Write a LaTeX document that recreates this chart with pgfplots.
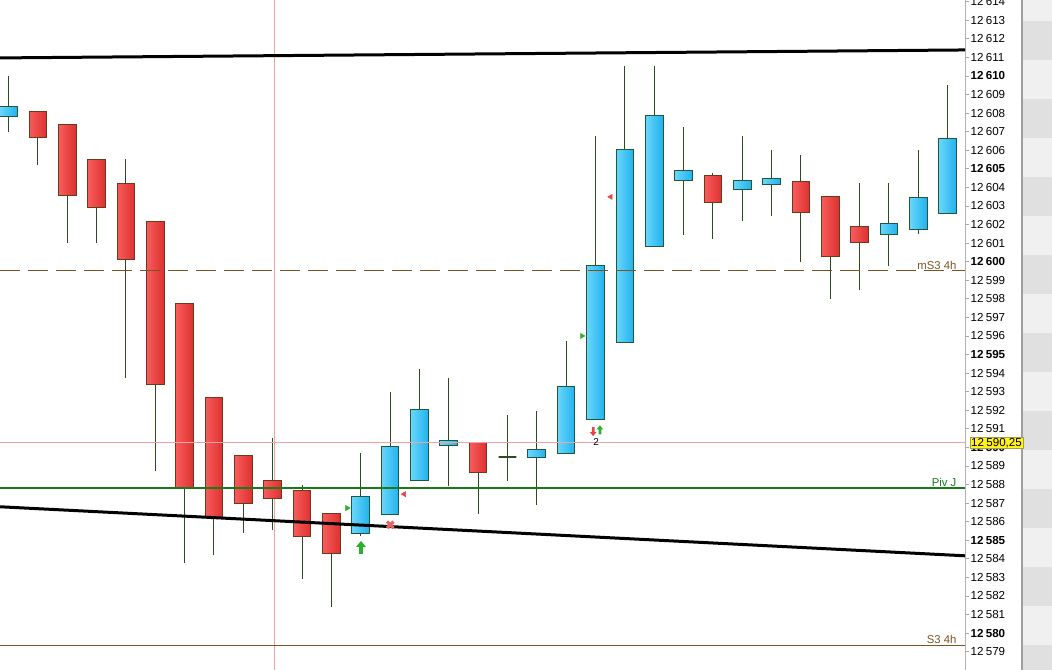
\documentclass[border=0pt]{standalone}
\usepackage{pgfplots}
\pgfplotsset{compat=1.18}
\usepackage{pgfplotstable}
\usepackage{fontspec}
\setmainfont{Liberation Sans}

\definecolor{blueL}{HTML}{6AD6FB}
\definecolor{blueR}{HTML}{20B2EE}
\definecolor{blueB}{HTML}{1D5A3C}
\definecolor{redL}{HTML}{F85C5C}
\definecolor{redR}{HTML}{DE3030}
\definecolor{redB}{HTML}{6B3A1C}
\definecolor{wick}{HTML}{2D4A20}
\definecolor{pivgreen}{HTML}{1A7A1A}
\definecolor{s3brown}{HTML}{7A5424}
\definecolor{pinkline}{HTML}{F0A4A4}
\definecolor{mkgreen}{HTML}{2DB02D}
\definecolor{mkred}{HTML}{E04848}
\definecolor{stripL}{HTML}{F0F0F0}
\definecolor{stripD}{HTML}{E0E0E0}

\newcommand\tl[1]{12\kern0.2em#1}
\newcommand\tb[1]{\textbf{12\kern0.2em#1}}

% block arrow mark, tip up
\pgfdeclareplotmark{barrow}{%
  \pgfpathmoveto{\pgfqpoint{0pt}{\pgfplotmarksize}}%
  \pgfpathlineto{\pgfqpoint{0.75\pgfplotmarksize}{0.1\pgfplotmarksize}}%
  \pgfpathlineto{\pgfqpoint{0.3\pgfplotmarksize}{0.1\pgfplotmarksize}}%
  \pgfpathlineto{\pgfqpoint{0.3\pgfplotmarksize}{-\pgfplotmarksize}}%
  \pgfpathlineto{\pgfqpoint{-0.3\pgfplotmarksize}{-\pgfplotmarksize}}%
  \pgfpathlineto{\pgfqpoint{-0.3\pgfplotmarksize}{0.1\pgfplotmarksize}}%
  \pgfpathlineto{\pgfqpoint{-0.75\pgfplotmarksize}{0.1\pgfplotmarksize}}%
  \pgfpathclose
  \pgfusepathqfill}

% candles: index, open, high, low, close
\pgfplotstableread{
i o h l c
0 12607.80 12610.00 12607.00 12608.35
1 12608.10 12608.10 12605.22 12606.70
2 12607.40 12607.40 12601.00 12603.58
3 12605.48 12605.48 12601.00 12602.93
4 12604.22 12605.53 12593.74 12600.13
5 12602.18 12602.18 12588.73 12593.36
6 12597.76 12597.76 12583.77 12587.81
7 12592.71 12592.71 12584.20 12586.20
8 12589.54 12589.54 12585.39 12586.95
9 12588.24 12590.50 12585.55 12587.22
10 12587.69 12587.97 12582.93 12585.21
11 12586.45 12586.45 12581.42 12584.30
12 12585.38 12589.70 12585.20 12587.37
13 12586.40 12592.98 12586.40 12590.06
14 12588.23 12594.22 12588.23 12592.05
15 12590.11 12593.74 12587.94 12590.38
16 12590.28 12590.28 12586.43 12588.64
17 12589.48 12591.74 12588.21 12589.48
18 12589.47 12591.96 12586.90 12589.90
19 12589.68 12595.73 12589.68 12593.28
20 12591.48 12606.77 12591.48 12599.81
21 12595.66 12610.55 12595.66 12606.05
22 12600.83 12610.55 12600.83 12607.88
23 12604.38 12607.25 12601.45 12604.92
24 12604.65 12604.76 12601.24 12603.20
25 12603.90 12606.77 12602.21 12604.38
26 12604.17 12606.02 12602.48 12604.49
27 12604.33 12605.73 12599.97 12602.64
28 12603.52 12603.52 12597.98 12600.29
29 12601.91 12604.22 12598.46 12601.04
30 12601.48 12604.22 12599.75 12602.07
31 12601.74 12606.02 12601.48 12603.47
32 12602.61 12609.52 12602.61 12606.65
}\candles

\pgfplotsset{
  redbody/.style={draw=redB, line width=0.75pt, left color=redL, right color=redR},
  bluebody/.style={draw=blueB, line width=0.75pt, left color=blueL, right color=blueR},
  dojibody/.style={draw=wick, line width=1.6pt},
}

\begin{document}
\begin{tikzpicture}
\useasboundingbox (0,0) rectangle (789pt,502.5pt);
% price strip at far right
\fill[stripL] (765.75pt,0) rectangle (789pt,502.5pt);
\foreach \k in {0,...,8}{
  \fill[stripD] (765.75pt,{502.5pt-(20.7+78.08*\k)*0.75pt}) rectangle (789pt,{502.5pt-(59.74+78.08*\k)*0.75pt});
}
\draw[gray!75, line width=1.8pt] (766.6pt,0) -- (766.6pt,502.5pt);

\begin{axis}[
  at={(0,0)}, anchor=south west,
  width=723.75pt, height=502.5pt, scale only axis,
  xmin=-0.29, xmax=32.59,
  ymin=12578.01, ymax=12614.09,
  clip=false,
  axis x line=none,
  axis y line*=right,
  axis line style={-, draw=gray!60, line width=0.75pt},
  tick align=outside,
  major tick length=3pt,
  ytick style={draw=gray!70, line width=0.6pt},
  ytick={12578,...,12614},
  yticklabels={\tl{578},\tl{579},\tb{580},\tl{581},\tl{582},\tl{583},\tl{584},\tb{585},\tl{586},\tl{587},\tl{588},\tl{589},\tb{590},\tl{591},\tl{592},\tl{593},\tl{594},\tb{595},\tl{596},\tl{597},\tl{598},\tl{599},\tb{600},\tl{601},\tl{602},\tl{603},\tl{604},\tb{605},\tl{606},\tl{607},\tl{608},\tl{609},\tb{610},\tl{611},\tl{612},\tl{613},\tl{614}},
  yticklabel style={anchor=west, inner sep=0pt, xshift=1pt, font=\fontsize{8.7}{9}\selectfont},
]
% vertical cursor line
\addplot[pinkline, line width=0.75pt] coordinates {(9.05,12578.01) (9.05,12614.09)};

% candles: wick, then body
\foreach \k in {0,...,32}{
  \pgfplotstablegetelem{\k}{o}\of\candles \let\vo\pgfplotsretval
  \pgfplotstablegetelem{\k}{h}\of\candles \let\vh\pgfplotsretval
  \pgfplotstablegetelem{\k}{l}\of\candles \let\vl\pgfplotsretval
  \pgfplotstablegetelem{\k}{c}\of\candles \let\vc\pgfplotsretval
  \pgfmathsetmacro\lo{min(\vo,\vc)}
  \pgfmathsetmacro\hi{max(\vo,\vc)}
  \pgfmathsetmacro\xa{\k-0.3}
  \pgfmathsetmacro\xb{\k+0.3}
  \ifdim\vc pt<\vo pt \def\cstyle{redbody}\else
    \ifdim\vc pt=\vo pt \def\cstyle{dojibody}\else\def\cstyle{bluebody}\fi\fi
  \edef\temp{\noexpand\addplot[wick, line width=0.75pt] coordinates {(\k,\vl) (\k,\vh)};
    \noexpand\addplot[\cstyle] coordinates {(\xa,\lo) (\xb,\lo) (\xb,\hi) (\xa,\hi)} -- cycle;}
  \temp
}

% levels
\addplot[pinkline, line width=0.75pt] coordinates {(-0.29,12590.25) (32.59,12590.25)};
\addplot[s3brown, line width=0.75pt, dash pattern=on 15pt off 6pt] coordinates {(-0.29,12599.5) (32.59,12599.5)};
\addplot[pivgreen, line width=1.5pt] coordinates {(-0.29,12587.82) (32.59,12587.82)};
\addplot[s3brown, line width=0.75pt] coordinates {(-0.29,12579.32) (32.59,12579.32)};
% trend lines
\addplot[black, line width=2.25pt] coordinates {(-0.29,12610.97) (32.59,12611.40)};
\addplot[black, line width=2.25pt] coordinates {(-0.29,12586.80) (32.59,12584.16)};

% signals
\addplot[only marks, mark=triangle*, mark size=2.2pt, mark options={rotate=-90, fill=mkgreen, draw=mkgreen}] coordinates {(11.54,12586.73) (19.54,12596.0)};
\addplot[only marks, mark=triangle*, mark size=2.2pt, mark options={rotate=90, fill=mkred, draw=mkred}] coordinates {(13.48,12587.48) (20.52,12603.49)};
\addplot[only marks, mark=barrow, mark size=4.9pt, mark options={fill=mkgreen}] coordinates {(12.01,12584.61)};
\addplot[only marks, mark=barrow, mark size=3.4pt, mark options={fill=mkgreen}] coordinates {(20.15,12590.94)};
\addplot[only marks, mark=barrow, mark size=3.4pt, mark options={fill=mkred, rotate=180}] coordinates {(19.92,12590.85)};
\addplot[only marks, mark=x, mark size=3.4pt, mark options={draw=mkred!85, line width=2.3pt}] coordinates {(13.01,12585.83)};
\node[font=\fontsize{7.5}{8}\selectfont, inner sep=0pt] at (axis cs:20.02,12590.3) {2};

% level labels
\node[anchor=south east, inner sep=1pt, text=s3brown, font=\fontsize{8.5}{9}\selectfont] at (axis cs:32.35,12599.5) {mS3 4h};
\node[anchor=south east, inner sep=1pt, text=pivgreen, font=\fontsize{8.5}{9}\selectfont] at (axis cs:32.35,12587.82) {Piv J};
\node[anchor=south east, inner sep=1pt, text=s3brown, font=\fontsize{8.5}{9}\selectfont] at (axis cs:32.35,12579.32) {S3 4h};
\coordinate (pv) at (axis cs:32.59,12590.25);
\end{axis}
\node[anchor=west, fill=yellow!90!white, draw=yellow!60!black, line width=0.4pt, inner xsep=1pt, inner ysep=0.6pt, xshift=3.4pt, font=\fontsize{8.7}{9}\selectfont] at (pv) {12\kern0.2em590,25};
\end{tikzpicture}
\end{document}
